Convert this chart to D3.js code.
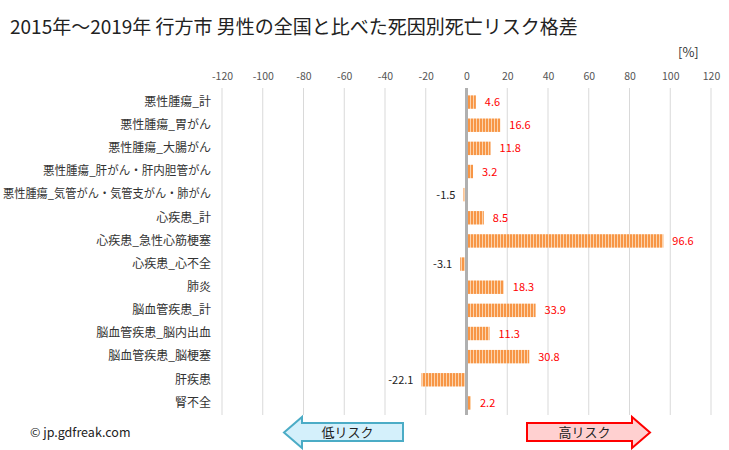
<!DOCTYPE html>
<html><head><meta charset="utf-8">
<script src="https://cdn.jsdelivr.net/npm/d3@7"></script>
<style>body{margin:0;background:#fff}svg{font-family:"Noto Sans CJK JP","Noto Sans",sans-serif}</style>
</head><body><svg id="c" width="729" height="450"></svg>
<script>
const categories=["悪性腫瘍_計","悪性腫瘍_胃がん","悪性腫瘍_大腸がん","悪性腫瘍_肝がん・肝内胆管がん","悪性腫瘍_気管がん・気管支がん・肺がん","心疾患_計","心疾患_急性心筋梗塞","心疾患_心不全","肺炎","脳血管疾患_計","脳血管疾患_脳内出血","脳血管疾患_脳梗塞","肝疾患","腎不全"];
const values=[4.6,16.6,11.8,3.2,-1.5,8.5,96.6,-3.1,18.3,33.9,11.3,30.8,-22.1,2.2];
const ticks=[-120,-100,-80,-60,-40,-20,0,20,40,60,80,100,120];
const title="2015年～2019年 行方市 男性の全国と比べた死因別死亡リスク格差";

const svg=d3.select("#c");
const x=d3.scaleLinear().domain([-120,120]).range([222,711]);
const y=d3.scaleBand().domain(categories).range([90.5,414.5]).paddingInner(0.42).paddingOuter(0.21);

const defs=svg.append("defs");
const pat=defs.append("pattern").attr("id","stripe").attr("patternUnits","userSpaceOnUse").attr("width",3).attr("height",4);
pat.append("rect").attr("width",3).attr("height",4).attr("fill","#f79646");
pat.append("rect").attr("x",2).attr("width",1).attr("height",4).attr("fill","#fcd3ac");

const t=svg.append("text").attr("x",10).attr("y",34).attr("font-size",19).attr("fill","#222").text(title);
if(t.node().getComputedTextLength()>582) t.attr("textLength",580).attr("lengthAdjust","spacingAndGlyphs");
svg.append("text").attr("x",678).attr("y",57).attr("font-size",13).attr("fill","#333").text("[%]");

// grid
svg.append("g").selectAll("line").data(ticks.filter(t=>t!==0)).join("line")
 .attr("x1",d=>x(d)).attr("x2",d=>x(d)).attr("y1",88).attr("y2",415)
 .attr("stroke","#d9d9d9").attr("stroke-width",1);
// tick labels via axis
const ax=svg.append("g").attr("transform","translate(0,80)")
 .call(d3.axisTop(x).tickValues(ticks).tickFormat(d=>String(d)).tickSize(0).tickPadding(0));
ax.select(".domain").remove();
ax.selectAll("text").attr("font-size",10.5).attr("fill","#555").attr("font-family","Noto Sans CJK JP, sans-serif");

// bars
svg.append("g").selectAll("rect").data(values).join("rect")
 .attr("x",(d)=>x(Math.min(0,d))).attr("width",d=>Math.abs(x(d)-x(0)))
 .attr("y",(d,i)=>y(categories[i])).attr("height",y.bandwidth())
 .attr("fill","url(#stripe)");
// zero line
svg.append("line").attr("x1",x(0)).attr("x2",x(0)).attr("y1",88).attr("y2",415).attr("stroke","#b0b0b0").attr("stroke-width",3);

// value labels
svg.append("g").selectAll("text").data(values).join("text")
 .attr("x",d=>d>=0?x(d)+9:x(d)-8)
 .attr("y",(d,i)=>y(categories[i])+y.bandwidth()/2+4)
 .attr("text-anchor",d=>d>=0?"start":"end")
 .attr("font-size",11).attr("fill",d=>d>=0?"#ff0000":"#222")
 .text(d=>d);

// category labels
const ay=svg.append("g").attr("transform","translate(211,0)")
 .call(d3.axisLeft(y).tickSize(0).tickPadding(0));
ay.select(".domain").remove();
ay.selectAll("text").attr("font-size",12).attr("fill","#333").attr("font-family","Noto Sans CJK JP, sans-serif")
 .each(function(){ if(this.getComputedTextLength()>168){ const w=this.getComputedTextLength()>200?208:168; d3.select(this).attr("textLength",w).attr("lengthAdjust","spacingAndGlyphs"); } });

// arrows
function arrow(x0,x1,dir,fill,stroke,label){
  const yt=423,yb=441,ytt=417,ybb=448;
  let pts;
  if(dir<0){
    const hx=x0+18;
    pts=[[x0,(ytt+ybb)/2],[hx,ytt],[hx,yt],[x1,yt],[x1,yb],[hx,yb],[hx,ybb]];
  }else{
    const hx=x1-18;
    pts=[[x0,yt],[hx,yt],[hx,ytt],[x1,(ytt+ybb)/2],[hx,ybb],[hx,yb],[x0,yb]];
  }
  svg.append("polygon").attr("points",pts.map(p=>p.join(",")).join(" "))
   .attr("fill",fill).attr("stroke",stroke).attr("stroke-width",2);
  svg.append("text").attr("x",dir<0?(x0+x1)/2+4:(x0+x1)/2-4).attr("y",437).attr("text-anchor","middle")
   .attr("font-size",13).attr("fill","#222").text(label);
}
arrow(284,403,-1,"#d4f0fb","#4bacc6","低リスク");
arrow(527,650,1,"#ffd0d0","#ff0000","高リスク");

svg.append("text").attr("x",30).attr("y",437).attr("font-size",12.5).attr("fill","#222").text("© jp.gdfreak.com");
</script></body></html>
